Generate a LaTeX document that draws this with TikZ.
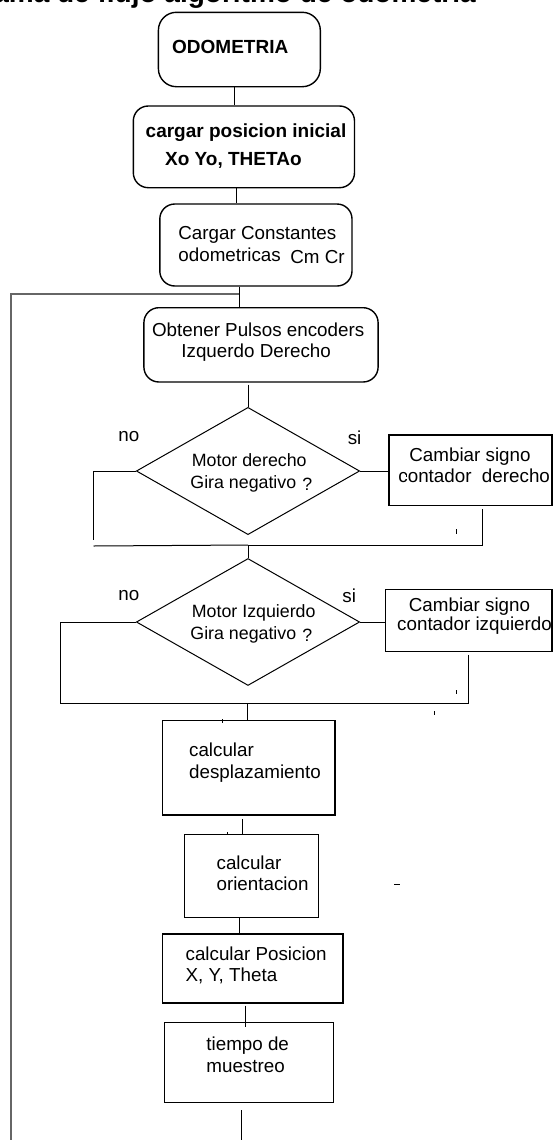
\documentclass[tikz,border=0pt]{standalone}
\usepackage{fontspec}
\setmainfont{Liberation Sans}
\usetikzlibrary{shapes.geometric}

\begin{document}
\begin{tikzpicture}[x=0.5pt,y=-0.5pt,
  every node/.style={font=\fontsize{9.4}{11}\selectfont},
  rbox/.style={draw,line width=0.7pt,rounded corners=7.5pt,inner sep=0pt},
  pbox/.style={draw,line width=0.7pt,inner sep=0pt},
  decision/.style={draw,diamond,line width=0.5pt,inner sep=0pt},
  txt/.style={anchor=base west,inner sep=0pt},
  dtxt/.style={txt,font=\fontsize{8.9}{11}\selectfont},
  btxt/.style={txt,font=\fontsize{9.5}{11}\selectfont\bfseries},
  link/.style={line width=0.5pt},
  loopline/.style={line width=1pt,draw=black!60}]
\useasboundingbox (0,0) rectangle (553,1140);

% title, cut by the page edge
\begin{scope}
\clip (0,0) rectangle (553,1140);
\node[anchor=base east,inner sep=0pt,font=\fontsize{14}{17}\selectfont\bfseries] (titulo) at (476,2.5) {Diagrama de flujo algoritmo de odometria};
\end{scope}

% start and set-up
\node[rbox,rounded corners=9pt,minimum width=80.95pt,minimum height=37.2pt] (odo) at (239.35,49.5) {};
\node[btxt] (odo1) at (171.8,53.3) {ODOMETRIA};

\node[rbox,minimum width=110.6pt,minimum height=40.85pt] (posini) at (243.9,146.85) {};
\node[btxt] (posini1) at (145.3,137.7) {cargar posicion inicial};
\node[btxt] (posini2) at (164.7,165) {Xo Yo, THETAo};

\node[rbox,minimum width=96.1pt,minimum height=41pt] (const) at (255.9,245) {};
\node[txt] (const1) at (178,239.3) {Cargar Constantes};
\node[txt] (const2) at (178,261.7) {odometricas};
\node[txt] (const3) at (290,263.3) {Cm Cr};

\node[rbox,minimum width=117.1pt,minimum height=37.15pt] (pulsos) at (261,344.85) {};
\node[txt] (pulsos1) at (151.7,336) {Obtener Pulsos encoders};
\node[txt] (pulsos2) at (181,357.7) {Izquerdo Derecho};

% right motor
\node[decision,minimum width=111.65pt,minimum height=63.65pt] (dder) at (248,471) {};
\node[dtxt] (dder1) at (191.5,466.7) {Motor derecho};
\node[dtxt] (dder2) at (190,488.3) {Gira negativo};
\node[dtxt] (dder3) at (302,490.5) {?};
\node[txt] (no1) at (118,441) {no};
\node[txt] (si1) at (347.4,444.3) {si};

\node[pbox,minimum width=81.5pt,minimum height=35.15pt] (cder) at (470.5,470.15) {};
\node[txt] (cder1) at (409,461) {Cambiar signo};
\node[txt] (cder2) at (398,482.7) {contador\ \ derecho};

% left motor
\node[decision,minimum width=111.65pt,minimum height=63.5pt] (dizq) at (248,622) {};
\node[dtxt] (dizq1) at (191.5,617.3) {Motor Izquierdo};
\node[dtxt] (dizq2) at (190,639) {Gira negativo};
\node[dtxt] (dizq3) at (302,641) {?};
\node[txt] (no2) at (118,600) {no};
\node[txt] (si2) at (342,602.3) {si};

\node[pbox,minimum width=83.4pt,minimum height=31pt] (cizq) at (468.6,620.3) {};
\node[txt] (cizq1) at (408.5,611.7) {Cambiar signo};
\node[txt] (cizq2) at (396.8,630) {contador izquierdo};

% calculations
\node[pbox,minimum width=86.4pt,minimum height=47.15pt] (desp) at (248.7,767.85) {};
\node[txt] (desp1) at (188.7,756.7) {calcular};
\node[txt] (desp2) at (188.7,778.3) {desplazamiento};

\node[pbox,minimum width=67pt,minimum height=41.5pt] (orient) at (251.5,875.8) {};
\node[txt] (orient1) at (216.2,869.3) {calcular};
\node[txt] (orient2) at (216.2,890.7) {orientacion};

\node[pbox,minimum width=90.3pt,minimum height=34.5pt] (pos) at (252.6,968.5) {};
\node[txt] (pos1) at (185.2,960) {calcular Posicion};
\node[txt] (pos2) at (185.2,981.7) {X, Y, Theta};

\node[pbox,minimum width=84.5pt,minimum height=40.2pt] (tmue) at (249.2,1062.5) {};
\node[txt] (tmue1) at (206,1050.7) {tiempo de};
\node[txt] (tmue2) at (206,1072.7) {muestreo};

% connectors
\coordinate (jloop) at (239.2,294);
\coordinate (lloop) at (10.6,294);
\coordinate (bloop) at (10.6,1140);
\coordinate (n1) at (93.5,540);
\coordinate (n1b) at (93.5,546);
\coordinate (m1) at (248,545);
\coordinate (r1) at (482.5,545);
\coordinate (n2) at (60,703);
\coordinate (m2) at (247,703);
\coordinate (fin) at (241.6,1140);

\draw[link] ([xshift=-2.4pt]odo.south) -- ([xshift=-2.4pt]odo.south |- posini.north);
\draw[link] ([xshift=-3.8pt]posini.south) -- ([xshift=-3.8pt]posini.south |- const.north);
\draw[link] (const.south -| jloop) -- (jloop) -- (jloop |- pulsos.north);
\draw[loopline] (jloop) -- (lloop) -- (bloop);
\draw[link] ([yshift=-1pt]dder.north |- pulsos.south) -- (dder.north);

\draw[link] (dder.east) -- (dder.east -| cder.west);
\draw[link] (dder.west) -| (n1);
\draw[link] (n1b) -- (m1);
\draw[link] ([yshift=-1.5pt]cder.south -| r1) -- (r1) -- (m1);
\draw[link] (m1) -- (dizq.north);

\draw[link] (dizq.east) -- (dizq.east -| cizq.west);
\draw[link] (dizq.west) -| (n2) -- (m2);
\draw[link] ([yshift=-1.4pt]cizq.south) -- (cizq.south |- m2) -- (m2);
\draw[link] (m2) -- (m2 |- desp.north);

\draw[link] ([xshift=-3pt,yshift=-1.6pt]desp.south) -- ([xshift=-3pt]desp.south |- orient.north);
\draw[link] ([xshift=-5.8pt]orient.south) -- ([xshift=-5.8pt]orient.south |- pos.north);
\draw[link] ([xshift=-3.5pt,yshift=-1pt]pos.south) -- ([xshift=-3.5pt,yshift=-2.7pt]pos.south |- tmue.north);
\draw[link] ([yshift=-3.3pt]tmue.south -| fin) -- (fin);

% small stray ticks
\draw[link] (406,473.5) -- (406,476.5);
\draw[link] (456.8,529) -- (456.8,534);
\draw[link] (456.8,690) -- (456.8,694);
\draw[link] (434.6,711) -- (434.6,715);
\draw[link] (222,719) -- (222,723);
\draw[link] (227.5,832) -- (227.5,835);
\draw[link] (394,884.3) -- (400,884.3);
\end{tikzpicture}
\end{document}
